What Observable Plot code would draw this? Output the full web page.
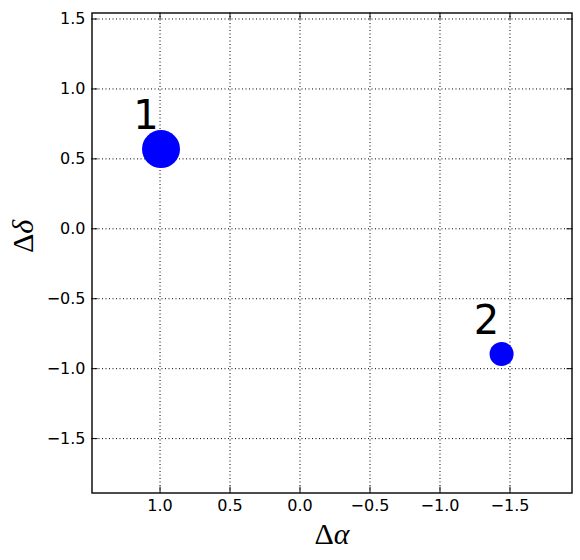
<!DOCTYPE html>
<html>
<head>
<meta charset="utf-8">
<script src="https://cdn.jsdelivr.net/npm/d3@7"></script>
<script src="https://cdn.jsdelivr.net/npm/@observablehq/plot@0.6"></script>
<style>
  html, body { margin: 0; padding: 0; background: #fff; }
  #chart svg { display: block; }
</style>
</head>
<body>
<div id="chart"></div>
<script>
// Data
const labels = ["1", "2"];
const dAlpha = [0.993, -1.44];
const dDelta = [0.57, -0.895];
const flux = [1.0, 0.40];

const xDomain = [1.486, -1.943];
const yDomain = [-1.889, 1.543];
const xTicks = [1.0, 0.5, 0.0, -0.5, -1.0, -1.5];
const yTicks = [1.5, 1.0, 0.5, 0.0, -0.5, -1.0, -1.5];

const points = labels.map((l, i) => ({label: l, x: dAlpha[i], y: dDelta[i], f: flux[i]}));
const fmt = d3.format(".1f");
const tickFont = {fontSize: 16, fontFamily: "DejaVu Sans"};

const plot = Plot.plot({
  width: 580,
  height: 560,
  marginLeft: 91.5,
  marginRight: 8.5,
  marginTop: 12.5,
  marginBottom: 67.5,
  style: {fontFamily: "DejaVu Sans", fontSize: "16px", color: "black", background: "white"},
  x: {domain: xDomain},
  y: {domain: yDomain},
  r: {domain: [0, 1], range: [0, 19]},
  marks: [
    Plot.gridX(xTicks, {stroke: "black", strokeOpacity: 1, strokeWidth: 1, strokeDasharray: "1,2.5"}),
    Plot.gridY(yTicks, {stroke: "black", strokeOpacity: 1, strokeWidth: 1, strokeDasharray: "1,2.5"}),
    Plot.axisX(xTicks, {anchor: "bottom", tickSize: -6, tickPadding: 12.5, tickFormat: fmt, label: null, ...tickFont}),
    Plot.axisX(xTicks, {anchor: "top", tickSize: -6, fill: "none", label: null}),
    Plot.axisY(yTicks, {anchor: "left", tickSize: -6, tickPadding: 12.5, tickFormat: fmt, label: null, ...tickFont}),
    Plot.axisY(yTicks, {anchor: "right", tickSize: -6, fill: "none", label: null}),
    Plot.frame({stroke: "black", strokeWidth: 1.4}),
    Plot.dot(points, {x: "x", y: "y", r: "f", fill: "#0000ff", stroke: "none"}),
    Plot.text(points, {x: "x", y: "y", text: "label", dx: -15, dy: -33, fontSize: 40, fontFamily: "DejaVu Sans", fill: "black"}),
    Plot.text(["Δα"], {frameAnchor: "bottom", dy: 50.5, lineAnchor: "bottom", fontSize: 30, fontFamily: "Liberation Serif", fill: "black"}),
    Plot.text(["Δδ"], {frameAnchor: "left", dx: -59, rotate: -90, lineAnchor: "bottom", fontSize: 30, fontFamily: "Liberation Serif", fill: "black"})
  ]
});

// Render the Greek letters after Δ in italic, like math text
d3.select(plot).selectAll("text").each(function() {
  const t = this.textContent;
  if (t === "Δα" || t === "Δδ") {
    const el = d3.select(this);
    el.text(null);
    el.append("tspan").text("Δ");
    el.append("tspan").attr("font-style", "italic").text(t.slice(1));
  }
});

document.getElementById("chart").append(plot);
</script>
</body>
</html>
